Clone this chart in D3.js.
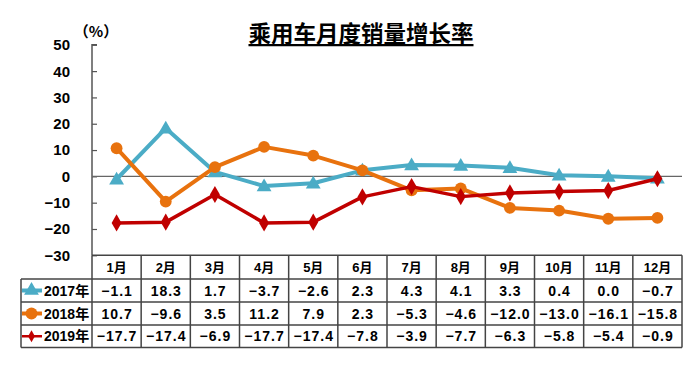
<!DOCTYPE html>
<html><head><meta charset="utf-8">
<script src="https://cdn.jsdelivr.net/npm/d3@7"></script>
<style>
body{margin:0;background:#fff;}
text{font-family:"Liberation Sans",Arial,"Noto Sans CJK SC",sans-serif;font-weight:bold;}
</style></head>
<body><svg id="c" width="700" height="384"></svg>
<script>
const months = ["1月","2月","3月","4月","5月","6月","7月","8月","9月","10月","11月","12月"];
const seriesNames = ["2017年","2018年","2019年"];
const v2017 = [-1.1,18.3,1.7,-3.7,-2.6,2.3,4.3,4.1,3.3,0.4,0.0,-0.7];
const v2018 = [10.7,-9.6,3.5,11.2,7.9,2.3,-5.3,-4.6,-12.0,-13.0,-16.1,-15.8];
const v2019 = [-17.7,-17.4,-6.9,-17.7,-17.4,-7.8,-3.9,-7.7,-6.3,-5.8,-5.4,-0.9];
const yTicks = [50,40,30,20,10,0,-10,-20,-30];
const title = "乘用车月度销量增长率";
const unit = "（%）";

const colors = ["#4BACC6","#E8720E","#C00000"];
const markers = [d3.symbolTriangle, d3.symbolCircle, d3.symbolDiamond];
const markerSizes = [95, 110, 85];
const allSeries = [v2017, v2018, v2019];

const svg = d3.select("#c");
const pLeft = 92, pRight = 682, pTop = 44.8, pBottom = 255.3;
const x = d3.scaleBand().domain(months).range([pLeft, pRight]);
const y = d3.scaleLinear().domain([-30, 50]).range([pBottom, pTop]);

// title
svg.append("text").attr("x", 361).attr("y", 42).attr("text-anchor","middle")
  .style("font-family","'Noto Sans CJK SC',sans-serif").style("font-size","22.5px")
  .style("text-decoration","underline").text(title);
svg.append("text").attr("x", 96).attr("y", 37).attr("text-anchor","middle")
  .style("font-family","'Noto Sans CJK SC',sans-serif").style("font-size","15px").text(unit);

// y axis
const yAxis = d3.axisRight(y).tickValues(yTicks).tickSize(5).tickFormat(d => "");
const ga = svg.append("g").attr("transform", `translate(${pLeft},0)`).call(yAxis);
ga.select(".domain").attr("stroke","#555").attr("stroke-width",1.5).attr("d", `M5,${pTop}H0V${pBottom}`);
ga.selectAll(".tick line").attr("stroke","#555").attr("stroke-width",1.2);
svg.selectAll(".ylab").data(yTicks).enter().append("text")
  .attr("x", 70).attr("y", d => y(d)).attr("dy","0.36em").attr("text-anchor","end")
  .style("font-size","15px").text(d => d3.format("d")(d).replace("-","−"));

// zero line
svg.append("line").attr("x1", pLeft).attr("x2", pRight).attr("y1", y(0)).attr("y2", y(0))
  .attr("stroke","#666").attr("stroke-width",1.3);

// lines
const line = d3.line().x((d,i) => x(months[i]) + x.bandwidth()/2).y(d => y(d));
allSeries.forEach((s, k) => {
  svg.append("path").datum(s).attr("d", line).attr("fill","none")
    .attr("stroke", colors[k]).attr("stroke-width", k===2 ? 3.5 : 4).attr("stroke-linejoin","round");
  svg.selectAll(".m"+k).data(s).enter().append("path")
    .attr("transform",(d,i) => `translate(${x(months[i]) + x.bandwidth()/2},${y(d) + (k===0?1:0)})`)
    .attr("d", d3.symbol().type(markers[k]).size(markerSizes[k]))
    .attr("fill", colors[k]);
});

// table
const rowH = [255.3, 279, 302, 325, 347.5];
const tableLeft = 21;
const bc = "#444";
const tg = svg.append("g");
tg.append("line").attr("x1", pLeft).attr("x2", pRight).attr("y1", rowH[0]).attr("y2", rowH[0]).attr("stroke",bc).attr("stroke-width",1.5);
for (let r = 1; r < rowH.length; r++) {
  tg.append("line").attr("x1", tableLeft).attr("x2", pRight).attr("y1", rowH[r]).attr("y2", rowH[r]).attr("stroke",bc).attr("stroke-width",1.5);
}
tg.append("line").attr("x1", tableLeft).attr("x2", tableLeft).attr("y1", rowH[1]).attr("y2", rowH[4]).attr("stroke",bc).attr("stroke-width",1.5);
months.forEach(m => {
  tg.append("line").attr("x1", x(m)).attr("x2", x(m)).attr("y1", rowH[0]).attr("y2", rowH[4]).attr("stroke",bc).attr("stroke-width",1.5);
});
tg.append("line").attr("x1", pRight).attr("x2", pRight).attr("y1", rowH[0]).attr("y2", rowH[4]).attr("stroke",bc).attr("stroke-width",1.5);

months.forEach(m => {
  tg.append("text").attr("x", x(m) + x.bandwidth()/2).attr("y", (rowH[0]+rowH[1])/2).attr("dy","0.36em")
    .attr("text-anchor","middle").style("font-size","13px").text(m);
});
const fmt = d3.format(".1f");
allSeries.forEach((s, k) => {
  const cy = (rowH[k+1] + rowH[k+2]) / 2;
  tg.append("line").attr("x1", tableLeft + 1).attr("x2", 42).attr("y1", cy).attr("y2", cy)
    .attr("stroke", colors[k]).attr("stroke-width", k===2 ? 2.5 : 4);
  tg.append("path").attr("transform", `translate(31.5,${cy})`)
    .attr("d", d3.symbol().type(markers[k]).size(k===2 ? 40 : markerSizes[k])).attr("fill", colors[k]);
  tg.append("text").attr("x", 44).attr("y", cy).attr("dy","0.36em").style("font-size","14px").text(seriesNames[k]);
  s.forEach((v, i) => {
    tg.append("text").attr("x", x(months[i]) + x.bandwidth()/2 + 0.5).attr("y", cy).attr("dy","0.36em")
      .attr("text-anchor","middle").style("font-size","14px").style("letter-spacing","1px")
      .text(fmt(v).replace("-","−"));
  });
});
</script></body></html>
